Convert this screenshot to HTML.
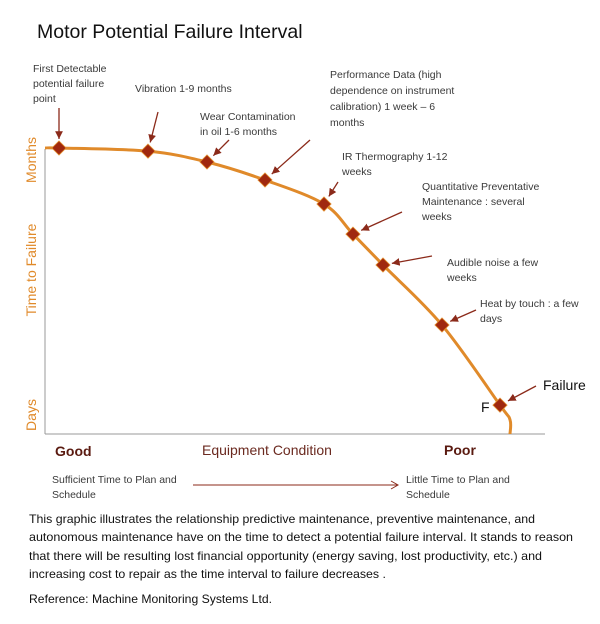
<!DOCTYPE html>
<html><head><meta charset="utf-8"><style>
html,body{margin:0;padding:0;background:#fff}
svg{display:block;font-family:"Liberation Sans",sans-serif}
.a{font-size:10.5px;fill:#3a3a3a}
.p{font-size:11.6px;fill:#111}
</style></head><body>
<svg id="chart" width="600" height="624" viewBox="0 0 600 624">
<defs><marker id="ah" markerWidth="8" markerHeight="8" refX="6" refY="4" orient="auto"><path d="M0,1 L6,4 L0,7 Z" fill="#8b2a1a"/></marker>
<marker id="ah2" markerWidth="10" markerHeight="10" refX="8" refY="5" orient="auto"><path d="M1,1 L8,5 L1,9" fill="none" stroke="#8b2a1a" stroke-width="1"/></marker></defs>
<text x="37" y="38" font-size="19.5" fill="#111">Motor Potential Failure Interval</text>
<line x1="45" y1="149" x2="45" y2="434" stroke="#999" stroke-width="1"/>
<line x1="45" y1="434" x2="545" y2="434" stroke="#999" stroke-width="1"/>
<g font-size="14" fill="#e08a2a">
<text transform="translate(36,160) rotate(-90)" text-anchor="middle">Months</text>
<text transform="translate(36,270) rotate(-90)" text-anchor="middle">Time to Failure</text>
<text transform="translate(36,415) rotate(-90)" text-anchor="middle">Days</text>
</g>
<path id="curve" fill="none" stroke="#e08a2a" stroke-width="3"/>
<g id="marks"></g>
<g id="arrows"></g>
<g class="a">
<text x="33" y="72"><tspan x="33">First Detectable</tspan><tspan x="33" dy="15">potential failure</tspan><tspan x="33" dy="15">point</tspan></text>
<text x="135" y="92">Vibration 1-9 months</text>
<text x="200" y="120"><tspan x="200">Wear Contamination</tspan><tspan x="200" dy="15">in oil  1-6 months</tspan></text>
<text x="330" y="78"><tspan x="330">Performance Data (high</tspan><tspan x="330" dy="16">dependence on instrument</tspan><tspan x="330" dy="16">calibration) 1 week – 6</tspan><tspan x="330" dy="16">months</tspan></text>
<text x="342" y="160"><tspan x="342">IR Thermography 1-12</tspan><tspan x="342" dy="15">weeks</tspan></text>
<text x="422" y="190"><tspan x="422">Quantitative Preventative</tspan><tspan x="422" dy="15">Maintenance : several</tspan><tspan x="422" dy="15">weeks</tspan></text>
<text x="447" y="266"><tspan x="447">Audible noise a few</tspan><tspan x="447" dy="15">weeks</tspan></text>
<text x="480" y="307"><tspan x="480">Heat by touch : a few</tspan><tspan x="480" dy="15">days</tspan></text>
</g>
<text x="543" y="390" font-size="14" fill="#111">Failure</text>
<text x="481" y="412" font-size="14" fill="#111">F</text>
<text x="55" y="456" font-size="14" font-weight="bold" fill="#5a1a10">Good</text>
<text x="202" y="455" font-size="14" fill="#6b2a20">Equipment Condition</text>
<text x="444" y="455" font-size="14" font-weight="bold" fill="#5a1a10">Poor</text>
<g class="a">
<text x="52" y="483"><tspan x="52">Sufficient Time to Plan and</tspan><tspan x="52" dy="15">Schedule</tspan></text>
<text x="406" y="483"><tspan x="406">Little Time to Plan and</tspan><tspan x="406" dy="15">Schedule</tspan></text>
</g>
<line x1="193" y1="485" x2="398" y2="485" stroke="#8b2a1a" stroke-width="1" marker-end="url(#ah2)"/>
<g class="p">
<text x="29" y="523" textLength="506" lengthAdjust="spacingAndGlyphs">This graphic illustrates the relationship predictive maintenance, preventive maintenance, and</text>
<text x="29" y="541" textLength="544" lengthAdjust="spacingAndGlyphs">autonomous maintenance have on the  time to detect a potential failure interval. It stands to reason</text>
<text x="29" y="560" textLength="513" lengthAdjust="spacingAndGlyphs">that there will be resulting lost financial opportunity (energy saving, lost productivity, etc.) and</text>
<text x="29" y="578" textLength="357" lengthAdjust="spacingAndGlyphs">increasing cost to repair as the time interval to failure  decreases .</text>
<text x="29" y="603" textLength="243" lengthAdjust="spacingAndGlyphs">Reference:  Machine Monitoring Systems Ltd.</text>
</g>
</svg>
<script>
const conditionValues=[2.8,20.6,32.4,44,55.8,61.6,67.6,79.4,91];
const timeValues=[100,98.9,95.1,88.8,80.4,69.9,59.1,38.1,10.1];
const pointNames=['first-detectable','vibration','wear','performance','ir','qpm','audible','heat','failure'];
const arrowStarts=[[59,108],[158,112],[229,140],[310,140],[338,182],[402,212],[432,256],[476,310],[536,386]];
function xs(v){return 45+v*5;}
function ys(v){return 434-v*2.86;}
const NS='http://www.w3.org/2000/svg';
const pts=conditionValues.map((c,i)=>[xs(c),ys(timeValues[i])]);
pts.unshift([xs(0),ys(100)]);
pts.push([xs(93),ys(5)]);pts.push([xs(93),ys(0)]);
let d='M'+pts[0][0]+','+pts[0][1];
for(let i=0;i<pts.length-1;i++){const p0=pts[Math.max(0,i-1)],p1=pts[i],p2=pts[i+1],p3=pts[Math.min(pts.length-1,i+2)];
d+=' C'+(p1[0]+(p2[0]-p0[0])/6)+','+(p1[1]+(p2[1]-p0[1])/6)+' '+(p2[0]-(p3[0]-p1[0])/6)+','+(p2[1]-(p3[1]-p1[1])/6)+' '+p2[0]+','+p2[1];}
document.getElementById('curve').setAttribute('d',d);
const mg=document.getElementById('marks'),ag=document.getElementById('arrows');
conditionValues.forEach((c,i)=>{
const x=xs(c),y=ys(timeValues[i]);
const r=document.createElementNS(NS,'rect');
r.setAttribute('x',x-5);r.setAttribute('y',y-5);r.setAttribute('width',10);r.setAttribute('height',10);
r.setAttribute('fill','#a0280f');r.setAttribute('stroke','#e08a2a');r.setAttribute('stroke-width','0.8');
r.setAttribute('transform','rotate(45 '+x+' '+y+')');


mg.appendChild(r);
const s=arrowStarts[i],dx=x-s[0],dy=y-s[1],L=Math.hypot(dx,dy),k=(L-9)/L;
const l=document.createElementNS(NS,'line');
l.setAttribute('x1',s[0]);l.setAttribute('y1',s[1]);l.setAttribute('x2',s[0]+dx*k);l.setAttribute('y2',s[1]+dy*k);
l.setAttribute('stroke','#8b2a1a');l.setAttribute('stroke-width','1.3');l.setAttribute('marker-end','url(#ah)');


ag.appendChild(l);
});
</script>
</body></html>
